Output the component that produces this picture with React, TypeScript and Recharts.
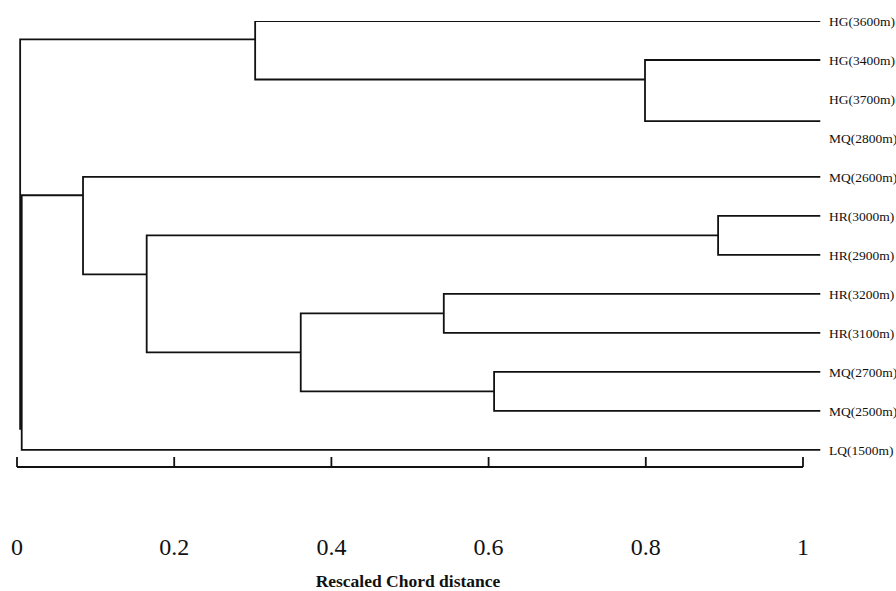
import React from 'react'
import { ComposedChart, Line, XAxis, YAxis, ReferenceLine } from 'recharts'

// leaves, top to bottom (row index = position of the label)
const leafNames = [
  'HG(3600m)', 'HG(3400m)', 'HG(3700m)', 'MQ(2800m)', 'MQ(2600m)', 'HR(3000m)',
  'HR(2900m)', 'HR(3200m)', 'HR(3100m)', 'MQ(2700m)', 'MQ(2500m)', 'LQ(1500m)'
]
// row where each leaf's branch is drawn (MQ(2800m) has no branch in the source figure)
const leafBranchRows = [0, 1, 2.57, null, 4, 5, 6, 7, 8, 9, 10, 11]

// merges m0..m9
const mergeLeft = ['HR(3200m)', 'MQ(2700m)', 'm0', 'HR(3000m)', 'm3', 'MQ(2600m)', 'HG(3400m)', 'HG(3600m)', 'm5', 'm7']
const mergeRight = ['HR(3100m)', 'MQ(2500m)', 'm1', 'HR(2900m)', 'm2', 'm4', 'HG(3700m)', 'm6', 'LQ(1500m)', 'm8']
const mergeDistance = [0.543, 0.607, 0.361, 0.892, 0.165, 0.084, 0.799, 0.303, 0.006, 0.004]
const mergeJoinRow = [7.5, 9.5, 8.5, 5.5, 6.5, 4.47, 1.5, 0.47, 10.46, 5]

const xTicks = [0, 0.2, 0.4, 0.6, 0.8, 1]
const leafDistance = 1.022
const xMax = 1.028
const yMax = 11.44

const W = 896
const H = 591
const FONT = '"Liberation Serif", "Times New Roman", serif'

const nodePos = (name: string) => {
  if (name.startsWith('m')) {
    const i = Number(name.slice(1))
    return { x: mergeDistance[i], y: mergeJoinRow[i] }
  }
  const i = leafNames.indexOf(name)
  return { x: leafDistance, y: leafBranchRows[i] as number }
}

const branches = mergeDistance.map((d, i) => {
  const a = nodePos(mergeLeft[i])
  const b = nodePos(mergeRight[i])
  return [
    { x: a.x, y: a.y },
    { x: d, y: a.y },
    { x: d, y: b.y },
    { x: b.x, y: b.y }
  ]
})

const fmtX = (v: number) => (v === 0 || v === 1 ? String(v) : v.toFixed(1))

const XTick = (props: any) => {
  const { x, y, payload } = props
  return (
    <g>
      <line x1={x} x2={x} y1={y} y2={y - 10} stroke="#111" strokeWidth={1.8} />
      <text x={x} y={y + 88} textAnchor="middle" fontSize={24} fontFamily={FONT} fill="#111">
        {fmtX(payload.value)}
      </text>
    </g>
  )
}

const Title = (props: any) => {
  const { viewBox } = props
  return (
    <text
      x={408}
      y={viewBox.y + 120}
      textAnchor="middle"
      fontSize={17.5}
      fontWeight="bold"
      fontFamily={FONT}
      fill="#111"
    >
      Rescaled Chord distance
    </text>
  )
}

export default function App() {
  return (
    <div style={{ width: W, height: H, background: '#fff' }}>
      <style>{'body{margin:0}'}</style>
      <ComposedChart width={W} height={H} margin={{ top: 21, right: 0, bottom: 0, left: 17 }}>
        <XAxis
          type="number"
          dataKey="x"
          domain={[0, xMax]}
          ticks={xTicks}
          height={124}
          axisLine={false}
          tickLine={false}
          tickSize={0}
          tickMargin={0}
          tick={<XTick />}
          label={<Title />}
          allowDataOverflow
        />
        <YAxis
          type="number"
          dataKey="y"
          orientation="right"
          reversed
          domain={[0, yMax]}
          ticks={leafNames.map((_, i) => i)}
          tickFormatter={(v: number) => leafNames[v]}
          width={71}
          axisLine={false}
          tickLine={false}
          tickSize={0}
          tickMargin={4}
          interval={0}
          tick={{ fontSize: 13.5, fontFamily: FONT, fill: '#111', textAnchor: 'start' }}
          allowDataOverflow
        />
        <ReferenceLine
          segment={[{ x: 0, y: yMax }, { x: 1, y: yMax }]}
          stroke="#111"
          strokeWidth={1.8}
          ifOverflow="visible"
        />
        {branches.map((pts, i) => (
          <Line
            key={i}
            data={pts}
            dataKey="y"
            type="linear"
            stroke="#111"
            strokeWidth={1.8}
            dot={false}
            activeDot={false}
            isAnimationActive={false}
          />
        ))}
      </ComposedChart>
    </div>
  )
}
